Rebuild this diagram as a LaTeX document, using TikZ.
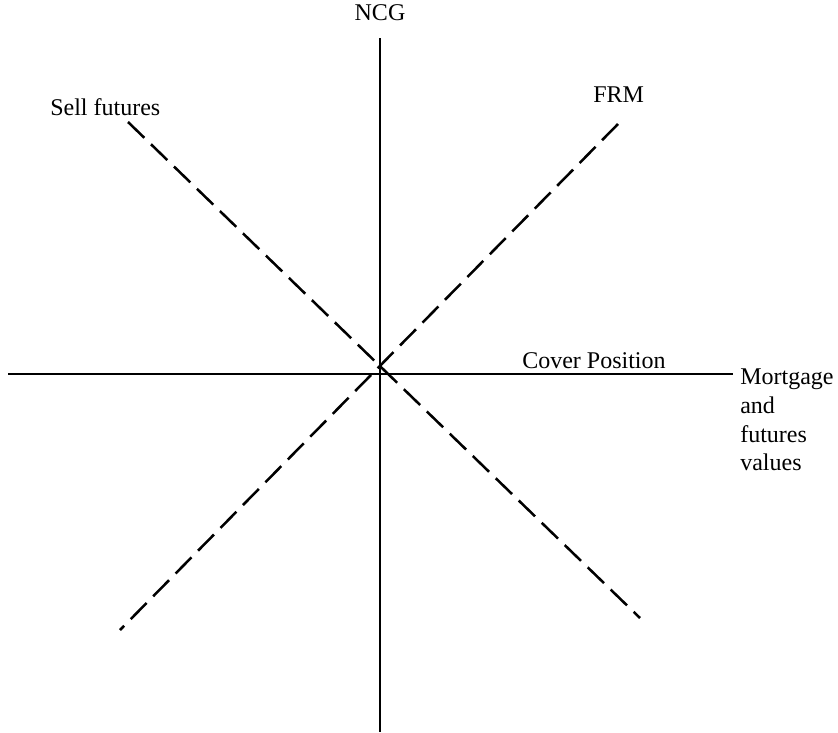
\documentclass[tikz,border=0pt]{standalone}
\usepackage{fontspec}
\setmainfont{Liberation Serif}
\begin{document}
\begin{tikzpicture}[x=0.75pt,y=-0.75pt,font=\fontsize{18}{21.4}\selectfont]
	\useasboundingbox (0,0) rectangle (838,732);
	\path (380,38) coordinate (N) (380,732) coordinate (S)
	(8,374) coordinate (W) (733,374) coordinate (E)
	(128,122) coordinate (SF_1) (640,618) coordinate (SF_2)
	(618,124) coordinate (FR_1) (120,630) coordinate (FR_2)
	(50,115) coordinate (SF) (593,102) coordinate (FR) (522,368) coordinate (CP);
	\draw[line width=0.9pt] (N)--(S) (W)--(E);
	\draw[line width=1.9pt,dash pattern=on 17pt off 7pt] (SF_1)--(SF_2) (FR_1)--(FR_2);
	\node[anchor=base] (ncg) at (380,20) {NCG};
	\foreach \x/\t in {SF/Sell futures, FR/FRM, CP/Cover Position}{
		\node[anchor=base west,inner sep=0pt] (\x_t) at (\x) {\t};
	}
	\node[anchor=north west,inner sep=0pt,align=left] (val) at (740,369) {Mortgage\\and\\futures\\values};
\end{tikzpicture}
\end{document}
